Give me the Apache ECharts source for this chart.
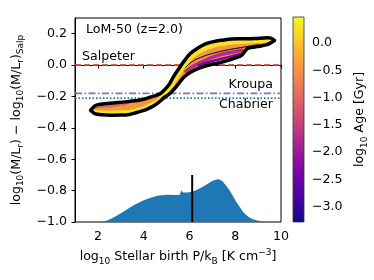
<!DOCTYPE html>
<html><head><meta charset="utf-8">
<script src="https://cdn.jsdelivr.net/npm/echarts@6/dist/echarts.min.js"></script>
<style>html,body{margin:0;padding:0;background:#fff}#c{width:374px;height:280px}</style>
</head><body><div id="c"></div>
<script>
// ---- tick values ----
const xTicks = [2, 4, 6, 8, 10];
const yTicks = [-1.0, -0.8, -0.6, -0.4, -0.2, 0.0, 0.2];
const cbTicks = [-3.0, -2.5, -2.0, -1.5, -1.0, -0.5, 0.0];
const cbRange = [-3.28, 0.48];

// ---- IMF reference offsets ----
const imfNames = ['Salpeter', 'Kroupa', 'Chabrier'];
const imfOffsets = [0.0, -0.18, -0.21];

// ---- band envelope ----
const bandUpperX = [1.68, 1.85, 2.0, 2.4, 2.87, 3.3, 3.6, 4.0, 4.33, 4.6, 4.77, 4.95, 5.13, 5.3, 5.55, 5.79, 6.05, 6.37, 6.7, 7.1, 7.5, 7.83, 8.2, 8.55, 8.9, 9.28, 9.55, 9.72];
const bandUpperY = [-0.288, -0.262, -0.252, -0.245, -0.239, -0.233, -0.228, -0.218, -0.203, -0.19, -0.177, -0.152, -0.12, -0.075, -0.02, 0.03, 0.075, 0.109, 0.135, 0.151, 0.16, 0.166, 0.168, 0.168, 0.17, 0.173, 0.172, 0.157];
const bandLowerX = [1.68, 1.86, 2.2, 2.59, 3.0, 3.31, 3.6, 3.9, 4.2, 4.48, 4.7, 4.91, 5.13, 5.35, 5.57, 5.79, 6.05, 6.37, 6.7, 7.1, 7.5, 7.83, 8.05, 8.26, 8.45, 8.55, 8.85, 9.14, 9.45, 9.72];
const bandLowerY = [-0.288, -0.309, -0.317, -0.319, -0.318, -0.316, -0.306, -0.294, -0.277, -0.256, -0.232, -0.205, -0.183, -0.15, -0.11, -0.073, -0.045, -0.022, -0.006, 0.008, 0.022, 0.036, 0.047, 0.06, 0.092, 0.106, 0.115, 0.122, 0.134, 0.157];

// ---- coloured strands inside the band ----
const yellowX = [1.8, 2.2, 2.8, 3.3, 3.8, 4.3, 4.7, 5.0, 5.25, 5.5, 5.75, 6.05, 6.4, 6.8, 7.2, 7.6, 8.0, 8.4, 8.8, 9.2, 9.5];
const yellowY = [-0.297, -0.303, -0.304, -0.301, -0.286, -0.258, -0.22, -0.17, -0.12, -0.062, -0.005, 0.048, 0.085, 0.113, 0.13, 0.141, 0.147, 0.15, 0.153, 0.157, 0.158];
const pinkX = [1.78, 2.2, 2.7, 3.2];
const pinkY = [-0.272, -0.265, -0.259, -0.252];
const magentaX = [5.85, 6.2, 6.6, 7.1, 7.6, 8.0, 8.3];
const magentaY = [-0.04, -0.005, 0.025, 0.055, 0.075, 0.087, 0.095];
const purpleX = [6.4, 6.8, 7.1, 7.5, 7.9, 8.2];
const purpleY = [0.0, 0.018, 0.03, 0.044, 0.058, 0.07];
const dividerX = [5.7, 6.1, 6.6, 7.1, 7.6, 8.1, 8.6, 9.0];
const dividerY = [-0.035, 0.02, 0.055, 0.078, 0.095, 0.108, 0.12, 0.13];

// ---- pressure histogram (baseline -1.0) ----
const histX = [2.0, 2.2, 2.4, 2.6, 2.8, 3.0, 3.2, 3.4, 3.6, 3.8, 4.0, 4.3, 4.6, 5.0, 5.4, 5.58, 5.64, 5.71, 5.9, 6.12, 6.35, 6.59, 6.8, 7.02, 7.15, 7.25, 7.35, 7.46, 7.6, 7.75, 7.9, 8.04, 8.2, 8.33, 8.48, 8.62, 8.8, 9.06, 9.3, 9.5];
const histY = [-1.0, -0.997, -0.99, -0.978, -0.962, -0.945, -0.927, -0.908, -0.89, -0.875, -0.861, -0.845, -0.833, -0.827, -0.828, -0.826, -0.797, -0.812, -0.812, -0.808, -0.793, -0.776, -0.757, -0.737, -0.73, -0.728, -0.731, -0.744, -0.768, -0.797, -0.835, -0.871, -0.905, -0.935, -0.955, -0.971, -0.984, -0.994, -0.998, -1.0];
const medianX = 6.12;
const medianY = [-1.0, -0.70];

const zip = (xs, ys) => xs.map((x, i) => [x, ys[i]]);
const bandPoly = zip(bandUpperX, bandUpperY).concat(zip(bandLowerX, bandLowerY).reverse());

const FONT = 'DejaVu Sans';
const FS = 12.6;
const minus = v => (v < 0 ? '\u2212' : '') + Math.abs(v).toFixed(1);
const plasma = [
  [0, '#0d0887'], [0.1, '#41049d'], [0.2, '#6a00a8'], [0.3, '#8f0da4'], [0.4, '#b12a90'],
  [0.5, '#cc4778'], [0.6, '#e16462'], [0.7, '#f2844b'], [0.8, '#fca636'], [0.9, '#fcce25'], [1, '#f0f921']
];
const rich = {
  n: {fontSize: FS, fontFamily: FONT, color: '#000', lineHeight: 18, verticalAlign: 'middle'},
  s: {fontSize: 9, fontFamily: FONT, color: '#000', lineHeight: 10, verticalAlign: 'bottom'},
  p: {fontSize: 9, fontFamily: FONT, color: '#000', lineHeight: 10, verticalAlign: 'top'}
};

const chart = echarts.init(document.getElementById('c'), null, {renderer: 'canvas'});

function strand(xs, ys, color, width) {
  return {type: 'line', data: zip(xs, ys), smooth: 0.4, showSymbol: false, silent: true,
    lineStyle: {color: color, width: width, cap: 'round'}, z: 4, animation: false};
}
function bandSeries(fill, stroke, lw, z) {
  return {type: 'custom', data: bandPoly, silent: true, z: z, animation: false,
    renderItem: (params, api) => {
      if (params.dataIndex !== 0) return;
      const pts = bandPoly.map(p => api.coord(p));
      return {type: 'polygon', shape: {points: pts, smooth: 0.35},
        style: {fill: fill, stroke: stroke, lineWidth: lw, lineJoin: 'round'}};
    }};
}

const imfStyles = [
  {color: '#d62728', type: [6, 3]},
  {color: '#9467bd', type: [7, 2.5, 1.5, 2.5]},
  {color: '#1f77b4', type: [1.5, 2]}
];

const option = {
  animation: false,
  textStyle: {fontFamily: FONT},
  grid: [
    {left: 75, right: 93, top: 18, bottom: 58, show: true, borderColor: '#000', borderWidth: 1},
    {left: 293, width: 11, top: 17, height: 205}
  ],
  xAxis: [
    {type: 'value', gridIndex: 0, min: 1, max: 10,
      axisLine: {show: true, lineStyle: {color: '#000', width: 1}},
      axisTick: {show: true, customValues: xTicks, length: 3.5, lineStyle: {color: '#000'}},
      axisLabel: {customValues: xTicks, color: '#000', fontSize: FS, fontFamily: FONT, margin: 8},
      splitLine: {show: false},
      name: '{n|log}{s|10}{n| Stellar birth P/k}{s|B}{n| [K cm}{p|\u22123}{n|]}',
      nameLocation: 'middle', nameGap: 26, nameTextStyle: {rich: rich}},
    {type: 'value', gridIndex: 1, min: 0, max: 1, show: false}
  ],
  yAxis: [
    {type: 'value', gridIndex: 0, min: -1.0, max: 0.3,
      axisLine: {show: true, lineStyle: {color: '#000', width: 1}},
      axisTick: {show: true, customValues: yTicks, length: 3.5, lineStyle: {color: '#000'}},
      axisLabel: {customValues: yTicks, color: '#000', fontSize: FS, fontFamily: FONT, margin: 8, formatter: minus},
      splitLine: {show: false},
      name: '{n|log}{s|10}{n|(M/L}{s|r}{n|) \u2212 log}{s|10}{n|(M/L}{s|r}{n|)}{s|Salp}',
      nameLocation: 'middle', nameRotate: 90, nameGap: 38, nameTextStyle: {rich: rich}},
    {type: 'value', gridIndex: 1, min: cbRange[0], max: cbRange[1], position: 'right',
      axisLine: {show: false},
      axisTick: {show: true, customValues: cbTicks, length: 3.5, lineStyle: {color: '#000'}},
      axisLabel: {customValues: cbTicks, color: '#000', fontSize: FS, fontFamily: FONT, margin: 8, formatter: minus},
      splitLine: {show: false},
      name: '{n|log}{s|10}{n| Age [Gyr]}',
      nameLocation: 'middle', nameRotate: 90, nameGap: 47, nameTextStyle: {rich: rich}}
  ],
  series: [
    // histogram
    {type: 'line', data: zip(histX, histY), showSymbol: false, silent: true, z: 1,
      lineStyle: {width: 0}, areaStyle: {color: '#1f77b4', opacity: 1, origin: 'start'}},
    // median marker
    {type: 'line', data: [[medianX, medianY[0]], [medianX, medianY[1]]], showSymbol: false, silent: true, z: 2,
      lineStyle: {color: '#000', width: 2}},
    // IMF reference lines
    ...imfNames.map((nm, i) => ({type: 'line', name: nm, data: [[1, imfOffsets[i]], [10, imfOffsets[i]]],
      showSymbol: false, silent: true, z: 2,
      lineStyle: {color: imfStyles[i].color, width: 1.8, type: imfStyles[i].type}})),
    // band fill
    bandSeries('#f89540', null, 0, 3),
    strand(pinkX, pinkY, '#e16462', 2),
    strand(magentaX, magentaY, '#b12a90', 3.5),
    strand(purpleX, purpleY, '#7e03a8', 2.5),
    strand(dividerX, dividerY, '#000', 1),
    strand(yellowX, yellowY, '#f7e225', 4.5),
    // band black outline on top
    bandSeries('none', '#000', 3.5, 5),
    // colorbar
    {type: 'custom', xAxisIndex: 1, yAxisIndex: 1, data: [[0, cbRange[0]], [1, cbRange[1]]], silent: true,
      renderItem: (params, api) => {
        if (params.dataIndex !== 0) return;
        const a = api.coord([0, cbRange[0]]);
        const b = api.coord([1, cbRange[1]]);
        return {type: 'rect', shape: {x: a[0], y: b[1], width: b[0] - a[0], height: a[1] - b[1]},
          style: {fill: new echarts.graphic.LinearGradient(0, 1, 0, 0,
            plasma.map(s => ({offset: s[0], color: s[1]}))), stroke: '#333', lineWidth: 0.8}};
      }}
  ],
  graphic: [
    {type: 'text', left: 86, top: 23, style: {text: 'LoM-50 (z=2.0)', font: FS + 'px "' + FONT + '"', fill: '#000'}},
    {type: 'text', left: 82, top: 50, style: {text: imfNames[0], font: FS + 'px "' + FONT + '"', fill: '#000'}},
    {type: 'text', right: 101, top: 78, style: {text: imfNames[1], font: FS + 'px "' + FONT + '"', fill: '#000'}},
    {type: 'text', right: 101, top: 98, style: {text: imfNames[2], font: FS + 'px "' + FONT + '"', fill: '#000'}}
  ]
};
chart.setOption(option);
</script>
</body></html>
